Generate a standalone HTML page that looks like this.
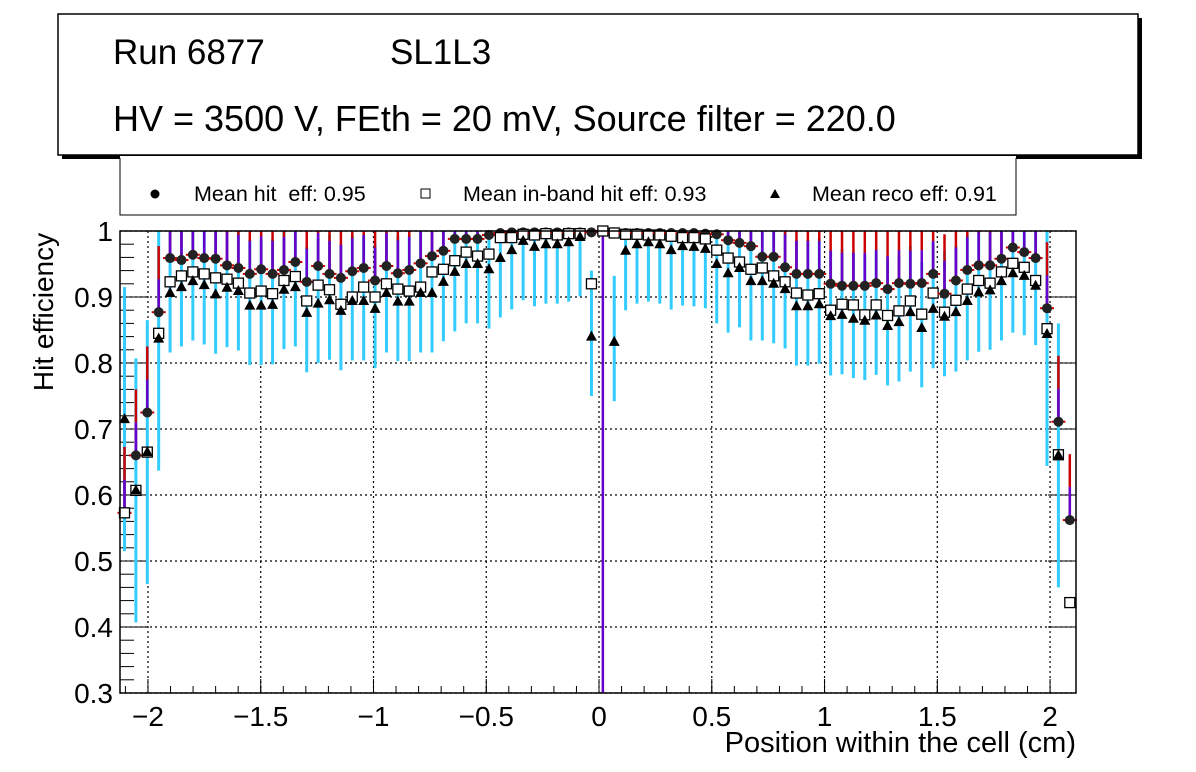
<!DOCTYPE html>
<html><head><meta charset="utf-8"><style>
body{margin:0;background:#fff;}
svg{display:block;font-family:"Liberation Sans",sans-serif;}
</style></head><body>
<svg id="c" width="1196" height="772">
<rect x="62" y="18" width="1080" height="141" fill="#000"/>
<rect x="58" y="14" width="1080" height="141" fill="#fff" stroke="#000" stroke-width="1.5"/>
<text x="113" y="64" font-size="35">Run 6877</text>
<text x="390" y="64" font-size="35">SL1L3</text>
<text x="113" y="131" font-size="36">HV = 3500 V, FEth = 20 mV, Source filter = 220.0</text>
<rect x="120" y="157" width="896" height="58" fill="#fff" stroke="#000" stroke-width="1"/>
<line x1="120" y1="157" x2="1016" y2="157" stroke="#fff" stroke-width="2"/>
<circle cx="155" cy="194" r="4.5" fill="#000"/>
<text x="194" y="201" font-size="21.5" xml:space="preserve">Mean hit  eff: 0.95</text>
<rect x="421" y="189" width="9" height="9" fill="#fff" stroke="#000"/>
<text x="463" y="201" font-size="21.5">Mean in-band hit eff: 0.93</text>
<polygon points="775,189 770,198 780,198" fill="#000"/>
<text x="812" y="201" font-size="21.5">Mean reco eff: 0.91</text>
<g id="plot"></g>
<text x="1076" y="752" font-size="29" text-anchor="end">Position within the cell (cm)</text>
<text transform="translate(53,312) rotate(-90)" font-size="28" text-anchor="middle">Hit efficiency</text>
</svg>
<script>
const hitEff=[.573,.66,.725,.877,.959,.956,.964,.959,.958,.948,.944,.935,.942,.935,.941,.953,.923,.947,.935,.929,.939,.944,.925,.947,.936,.941,.951,.962,.97,.988,.988,.988,.994,.997,.998,.998,.998,.998,.998,.998,.998,.998,1,.998,.997,.997,.997,.997,.997,.997,.997,.996,.995,.986,.982,.977,.961,.961,.945,.935,.935,.935,.92,.917,.917,.917,.921,.912,.921,.92,.921,.935,.905,.925,.941,.948,.948,.958,.975,.968,.959,.883,.711,.562];
const inbandEff=[.573,.607,.665,.845,.923,.932,.938,.935,.929,.927,.921,.906,.909,.905,.925,.931,.894,.918,.911,.889,.9,.915,.9,.92,.912,.909,.915,.938,.942,.955,.968,.962,.965,.99,.99,.995,.994,.996,.994,.996,.996,.92,1,.997,.995,.995,.994,.994,.992,.99,.99,.988,.971,.959,.953,.942,.944,.932,.923,.906,.903,.905,.88,.889,.888,.873,.888,.872,.879,.894,.874,.906,.877,.895,.912,.925,.921,.938,.951,.945,.925,.852,.661,.437];
const recoEff=[.715,.607,.665,.837,.906,.915,.924,.918,.904,.914,.909,.887,.887,.888,.911,.915,.876,.89,.895,.879,.894,.894,.882,.906,.893,.893,.906,.906,.923,.938,.95,.95,.942,.959,.971,.985,.976,.98,.98,.983,.991,.84,null,.832,.97,.98,.983,.98,.971,.977,.976,.973,.95,.936,.944,.924,.924,.92,.912,.886,.886,.889,.871,.873,.867,.864,.872,.856,.862,.877,.853,.882,.87,.877,.894,.907,.91,.924,.936,.932,.917,.844,.66,null];
const xStart=-2.104, binStep=0.0505;
const xTicks=[-2,-1.5,-1,-0.5,0,0.5,1,1.5,2];
const xTickLabels=["\u22122","\u22121.5","\u22121","\u22120.5","0","0.5","1","1.5","2"];
const yTicks=[0.3,0.4,0.5,0.6,0.7,0.8,0.9,1];
const yTickLabels=["0.3","0.4","0.5","0.6","0.7","0.8","0.9","1"];

const L=120,R=1076,T=231,B=693,xmin=-2.124,xmax=2.115,ymin=0.3,ymax=1.0;
const X=v=>L+(v-xmin)/(xmax-xmin)*(R-L);
const Y=v=>B-(v-ymin)/(ymax-ymin)*(B-T);
const clip=v=>Math.max(ymin,Math.min(ymax,v));
const NS="http://www.w3.org/2000/svg";
const g=document.getElementById('plot');
function mk(t,a,p){const e=document.createElementNS(NS,t);for(const k in a)e.setAttribute(k,a[k]);(p||g).appendChild(e);return e;}
let e=mk('rect',{x:L,y:T,width:R-L,height:B-T,fill:'#fff',stroke:'none'});


xTicks.forEach((v,i)=>{
 let l=mk('line',{x1:X(v),x2:X(v),y1:T,y2:B,stroke:'#000','stroke-dasharray':'2,3','stroke-width':1.2});
 
 
 mk('line',{x1:X(v),x2:X(v),y1:B,y2:B-14,stroke:'#000'});
 let t=mk('text',{x:X(v),y:726,'font-size':28,'text-anchor':'middle'});t.textContent=xTickLabels[i];
 
 
});
for(let v=-2.1;v<=2.1;v+=0.1){mk('line',{x1:X(v),x2:X(v),y1:B,y2:B-7,stroke:'#000'});}
yTicks.forEach((v,i)=>{
 let l=mk('line',{x1:L,x2:R,y1:Y(v),y2:Y(v),stroke:'#000','stroke-dasharray':'2,3','stroke-width':1.2});
 
 
 mk('line',{x1:L,x2:L+28,y1:Y(v),y2:Y(v),stroke:'#000'});
 mk('line',{x1:R,x2:R-28,y1:Y(v),y2:Y(v),stroke:'#000'});
 let t=mk('text',{x:113,y:Y(v)+10,'font-size':28,'text-anchor':'end'});t.textContent=yTickLabels[i];
 
 
});
for(let v=0.3;v<1;v+=0.02){mk('line',{x1:L,x2:L+14,y1:Y(v),y2:Y(v),stroke:'#000'});}
hitEff.forEach((h,i)=>{
 const cx=X(xStart+i*binStep);
 const r=recoEff[i],s=inbandEff[i];
 const edge=(i<4||i>80);
 if(r!==null){let l=mk('line',{x1:cx,x2:cx,y1:Y(clip(r-(edge?0.2:0.09))),y2:Y(clip(r+(edge?0.2:0.1))),stroke:'#33ccff','stroke-width':3});
  
  }
 let l2=mk('line',{x1:cx,x2:cx,y1:Y(clip(h)),y2:Y(clip(h+(edge?0.1:0.09))),stroke:'#cc0000','stroke-width':2.5});
 
 
 let l3=mk('line',{x1:cx,x2:cx,y1:Y(clip(h)),y2:Y(clip(h+0.05)),stroke:'#6600cc','stroke-width':2.5});
 
 
 if(i===42){mk('line',{x1:cx,x2:cx,y1:Y(1),y2:B,stroke:'#6600cc','stroke-width':2.5});}
 mk('line',{x1:cx-7,x2:cx+7,y1:Y(clip(h)),y2:Y(clip(h)),stroke:'#cc0000','stroke-width':2});
 let c=mk('circle',{cx:cx,cy:Y(clip(h)),r:5,fill:'#222'});
 
 
 let q=mk('rect',{x:cx-5,y:Y(clip(s))-5,width:10,height:10,fill:'#fff',stroke:'#000','stroke-width':1.3});
 
 
 if(r!==null){const ry=Y(clip(r));
  let tr=mk('polygon',{points:`${cx},${ry-6} ${cx-5.5},${ry+4} ${cx+5.5},${ry+4}`,fill:'#000'});
  
  }
});
let fr=mk('rect',{x:L,y:T,width:R-L,height:B-T,fill:'none',stroke:'#000','stroke-width':1.5});


</script>
</body></html>
